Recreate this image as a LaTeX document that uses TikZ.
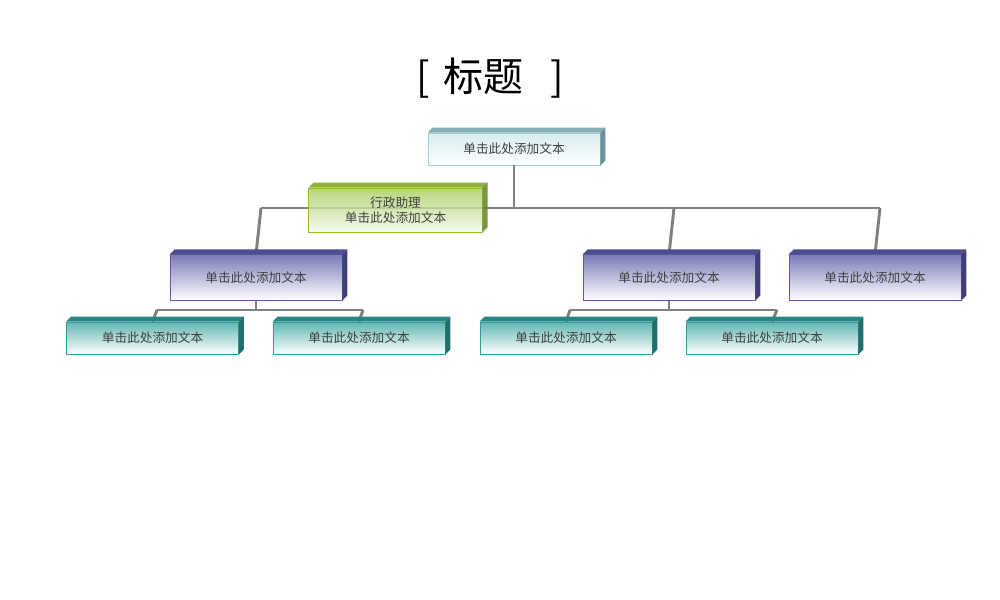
\documentclass[tikz,border=0pt]{standalone}
\usepackage{fontspec}
\newfontfamily\cjk{Noto Sans CJK SC}
\definecolor{topb}{HTML}{9CCFD6}
\definecolor{grn}{HTML}{8DBF2E}
\definecolor{pur}{HTML}{5A5AA8}
\definecolor{tl}{HTML}{2E9E9A}
\begin{document}
\begin{tikzpicture}[x=0.75pt,y=-0.75pt,
 bx/.style={draw=#1,line width=0.6pt,minimum width=129pt,minimum height=24pt,inner sep=0pt,font=\cjk\fontsize{9.5pt}{11pt}\selectfont,text=black!75,align=center},
 conn/.style={draw=black!50,line width=2.2pt}]
\useasboundingbox (0,0) rectangle (1000,600);
\newcommand{\threed}[2]{%
 \fill[#2!85!black] (#1.north west) -- ++(5,-5) -- ([shift={(5,-5)}]#1.north east) -- (#1.north east) -- cycle;
 \fill[#2!70!black] (#1.north east) -- ++(5,-5) -- ([shift={(5,-5)}]#1.south east) -- (#1.south east) -- cycle;}
\node[font=\cjk\fontsize{30pt}{34pt}\selectfont] (title) at (490,78) {[\,\,标题\,\,\,\,]};
\coordinate (j) at (514,208);
\coordinate (jl) at (261,208);\coordinate (jm) at (674,208);\coordinate (jr) at (880,208);
\coordinate (sl) at (256,310);\coordinate (sl1) at (157,310);\coordinate (sl2) at (363,310);
\coordinate (sm) at (669,310);\coordinate (sm1) at (570,310);\coordinate (sm2) at (777,310);
\node[bx=topb,top color=topb!40,bottom color=white] (top) at (514,149) {单击此处添加文本};
\node[bx=pur,top color=pur!80,bottom color=white,minimum height=34pt] (p1) at (256,277.5) {单击此处添加文本};
\node[bx=pur,top color=pur!80,bottom color=white,minimum height=34pt] (p2) at (669,277.5) {单击此处添加文本};
\node[bx=pur,top color=pur!80,bottom color=white,minimum height=34pt] (p3) at (875,277.5) {单击此处添加文本};
\foreach \n/\x in {t1/152.5,t2/359,t3/566,t4/772}
 \node[bx=tl,top color=tl!75,bottom color=white] (\n) at (\x,338) {单击此处添加文本};
\draw[conn] (top.south) -- (j);
\draw[conn] (jl) -- (jr);
\draw[conn] (jl) -- (p1.north);\draw[conn] (jm) -- (p2.north);\draw[conn] (jr) -- (p3.north);
\draw[conn] (p1.south) -- (sl);\draw[conn] (sl1) -- (sl2);\draw[conn] (sl1) -- (t1.north);\draw[conn] (sl2) -- (t2.north);
\draw[conn] (p2.south) -- (sm);\draw[conn] (sm1) -- (sm2);\draw[conn] (sm1) -- (t3.north);\draw[conn] (sm2) -- (t4.north);
\threed{top}{topb}
\threed{p1}{pur}\threed{p2}{pur}\threed{p3}{pur}
\threed{t1}{tl}\threed{t2}{tl}\threed{t3}{tl}\threed{t4}{tl}
\node[bx=grn,top color=grn!80,bottom color=grn!10,minimum height=33pt,minimum width=130pt,fill opacity=0.8,text opacity=1] (asst) at (395.5,210) {行政助理\\单击此处添加文本};
\fill[grn!85!black,opacity=0.85] (asst.north west) -- ++(5,-5) -- ([shift={(5,-5)}]asst.north east) -- (asst.north east) -- cycle;
\fill[grn!70!black,opacity=0.85] (asst.north east) -- ++(5,-5) -- ([shift={(5,-5)}]asst.south east) -- (asst.south east) -- cycle;
\end{tikzpicture}
\end{document}
